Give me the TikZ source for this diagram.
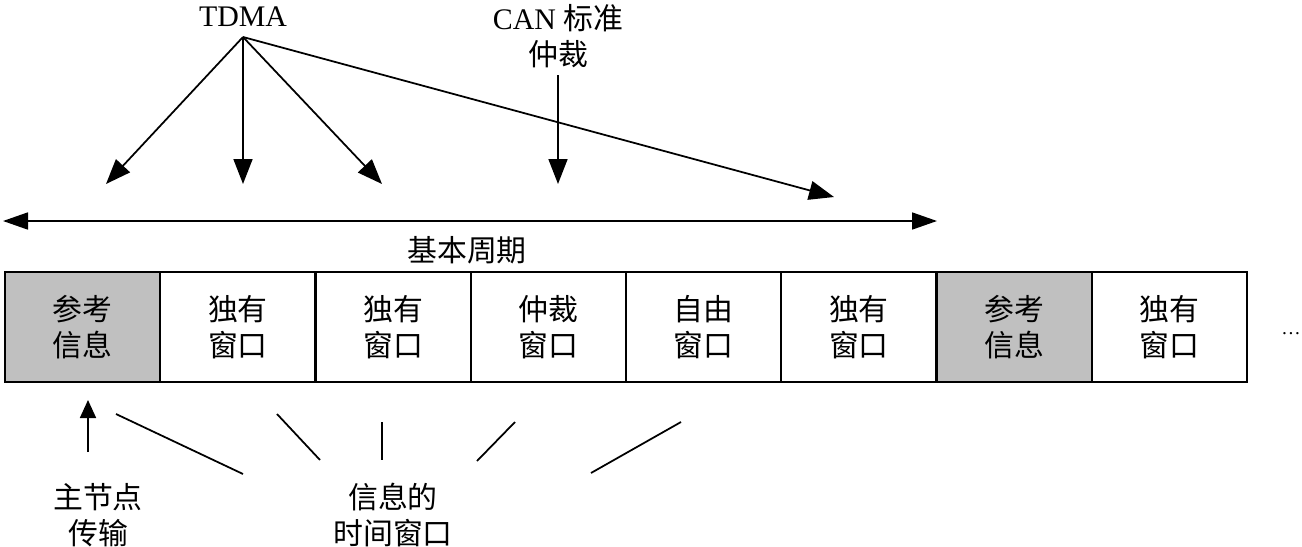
\documentclass[tikz,border=0pt]{standalone}
\usepackage{fontspec}
\setmainfont{Liberation Serif}
\newfontfamily\cjk{Noto Sans CJK SC}
\usetikzlibrary{arrows.meta}
\newcommand\labsize{\fontsize{17}{20.5}\selectfont}
\definecolor{refgray}{HTML}{C0C0C0}
\tikzset{
  cell/.style={draw, line width=1.3pt, minimum width=31.05mm, minimum height=22mm, inner sep=0pt, outer sep=0pt, align=center, font=\labsize\cjk},
  refcell/.style={cell, fill=refgray},
  lbl/.style={inner sep=0pt, align=center, font=\labsize},
  cjklbl/.style={lbl, font=\labsize\cjk},
  bigarrow/.style={-{Triangle[length=5mm,width=3.8mm]}, line width=1pt},
  bothways/.style={{Triangle[length=5mm,width=3.4mm]}-{Triangle[length=5mm,width=3.4mm]}, line width=1pt},
  smallarrow/.style={-{Triangle[length=3.6mm,width=3.2mm]}, line width=1pt},
  hint/.style={line width=1pt}
}
\begin{document}
\begin{tikzpicture}[x=0.2mm, y=-0.2mm]
  \useasboundingbox (0,0) rectangle (1302,546);
  % time slots of one cycle and the next
  \foreach \i/\txt/\sty in {1/{参考\\信息}/refcell, 2/{独有\\窗口}/cell, 3/{独有\\窗口}/cell,
      4/{仲裁\\窗口}/cell, 5/{自由\\窗口}/cell, 6/{独有\\窗口}/cell, 7/{参考\\信息}/refcell, 8/{独有\\窗口}/cell}
    \node[\sty] (c\i) at ({5+155.25*(\i-0.5)},327) {\txt};
  \node[lbl, font=\fontsize{11}{13}\selectfont] (more) at (1291,334) {…};

  % labels
  \node[lbl] (tdma) at (243,17) {TDMA};
  \node[lbl] (can) at (558,36) {CAN {\cjk 标准}\\{\cjk 仲裁}};
  \node[cjklbl] (period) at (467,250) {基本周期};
  \node[cjklbl] (master) at (98,515) {主节点\\传输};
  \node[cjklbl] (slots) at (393,515) {信息的\\时间窗口};

  % TDMA arrows
  \coordinate (apex) at (243,37);
  \foreach \n/\p in {1/{106,184}, 2/{243,184}, 3/{382,184}, 4/{834,197}} {
    \coordinate (tip\n) at (\p);
    \draw[bigarrow] (apex) -- (tip\n);
  }
  \coordinate (canTail) at (558,75);
  \coordinate (canTip) at (558,184);
  \draw[bigarrow] (canTail) -- (canTip);

  % basic cycle
  \coordinate (cycL) at (3,221);
  \coordinate (cycR) at (937,221);
  \draw[bothways] (cycL) -- (cycR);

  % master node transmission
  \coordinate (upTail) at (88,452);
  \coordinate (upTip) at (88,400);
  \draw[smallarrow] (upTail) -- (upTip);

  % hint lines towards the slot label
  \foreach \n/\p/\q in {1/{116,414}/{243,474}, 2/{277,414}/{320,460}, 3/{382,422}/{382,460},
      4/{515,422}/{477,461}, 5/{681,422}/{591,473}} {
    \coordinate (hs\n) at (\p);
    \coordinate (he\n) at (\q);
    \draw[hint] (hs\n) -- (he\n);
  }
\end{tikzpicture}
\end{document}
